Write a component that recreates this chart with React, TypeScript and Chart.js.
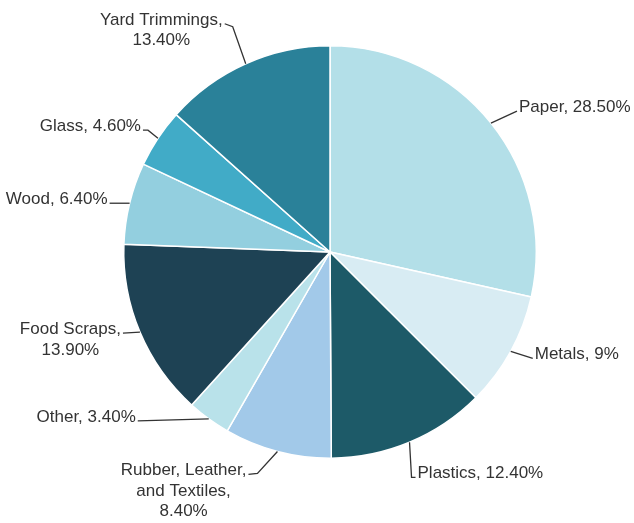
import React, { useEffect, useRef } from "react";
import { Chart, registerables } from "chart.js";

Chart.register(...registerables);

const categories = ["Paper", "Metals", "Plastics", "Rubber, Leather, and Textiles", "Other", "Food Scraps", "Wood", "Glass", "Yard Trimmings"];
const values = [28.5, 9, 12.4, 8.4, 3.4, 13.9, 6.4, 4.6, 13.4];
const labelLines = [
  ["Paper, 28.50%"],
  ["Metals, 9%"],
  ["Plastics, 12.40%"],
  ["Rubber, Leather,", "and Textiles,", "8.40%"],
  ["Other, 3.40%"],
  ["Food Scraps,", "13.90%"],
  ["Wood, 6.40%"],
  ["Glass, 4.60%"],
  ["Yard Trimmings,", "13.40%"],
];
const colors = ["#b3dfe8", "#d8ecf3", "#1d5a68", "#a2c9e9", "#b9e2ea", "#1e4254", "#93cfdf", "#41abc7", "#2a8199"];

// leader layout: points relative to the slice edge point, text side
const leaders: { pts: number[][]; side: "left" | "right" }[] = [
  { pts: [[0, 0], [26, -12]], side: "left" },
  { pts: [[0, 0], [22, 7]], side: "left" },
  { pts: [[0, 0], [2, 35], [6, 35]], side: "left" },
  { pts: [[0, 0], [-20, 22], [-29, 23]], side: "right" },
  { pts: [[0, 0], [-71, 2]], side: "right" },
  { pts: [[0, 0], [-17, 1]], side: "right" },
  { pts: [[0, 0], [-20, 0]], side: "right" },
  { pts: [[0, 0], [-10, -8], [-15, -8]], side: "right" },
  { pts: [[0, 0], [-13, -37], [-21, -40]], side: "right" },
];

const FONT = '17px "Liberation Sans", Arial, sans-serif';
const LINE_H = 20.5;

const labelPlugin = {
  id: "pieLabels",
  afterDatasetsDraw(chart: any) {
    const ctx = chart.ctx;
    const meta = chart.getDatasetMeta(0);
    ctx.save();
    ctx.font = FONT;
    ctx.fillStyle = "#333333";
    ctx.strokeStyle = "#333333";
    ctx.lineWidth = 1.3;
    meta.data.forEach((arc: any, i: number) => {
      const mid = (arc.startAngle + arc.endAngle) / 2;
      const r = arc.outerRadius;
      const ox = arc.x + Math.cos(mid) * r;
      const oy = arc.y + Math.sin(mid) * r;
      const L = leaders[i];
      ctx.beginPath();
      L.pts.forEach((p, k) => {
        const x = ox + p[0];
        const y = oy + p[1];
        if (k === 0) ctx.moveTo(x, y);
        else ctx.lineTo(x, y);
      });
      ctx.stroke();
      const last = L.pts[L.pts.length - 1];
      const ex = ox + last[0];
      const ey = oy + last[1];
      const lines = labelLines[i];
      const maxW = Math.max(...lines.map((t) => ctx.measureText(t).width));
      const gap = 2;
      const cx = L.side === "left" ? ex + gap + maxW / 2 : ex - gap - maxW / 2;
      ctx.textAlign = "center";
      ctx.textBaseline = "alphabetic";
      lines.forEach((t, k) => {
        ctx.fillText(t, cx, ey + 1 + k * LINE_H);
      });
    });
    ctx.restore();
  },
};

export default function App() {
  const ref = useRef<HTMLCanvasElement | null>(null);
  useEffect(() => {
    if (!ref.current) return;
    const chart = new Chart(ref.current, {
      type: "pie",
      data: {
        labels: categories,
        datasets: [
          {
            data: values,
            backgroundColor: colors,
            borderColor: "#ffffff",
            borderWidth: 1.5,
          },
        ],
      },
      options: {
        animation: false,
        responsive: false,
        layout: { padding: { top: 45, bottom: 64, left: 123, right: 97 } },
        plugins: {
          legend: { display: false },
          tooltip: { enabled: false },
        },
      },
      plugins: [labelPlugin],
    });
    return () => chart.destroy();
  }, []);
  return (
    <div style={{ position: "fixed", left: 0, top: 0, width: 634, height: 523, background: "#fff" }}>
      <canvas ref={ref} width={634} height={523} style={{ width: 634, height: 523 }} />
    </div>
  );
}
